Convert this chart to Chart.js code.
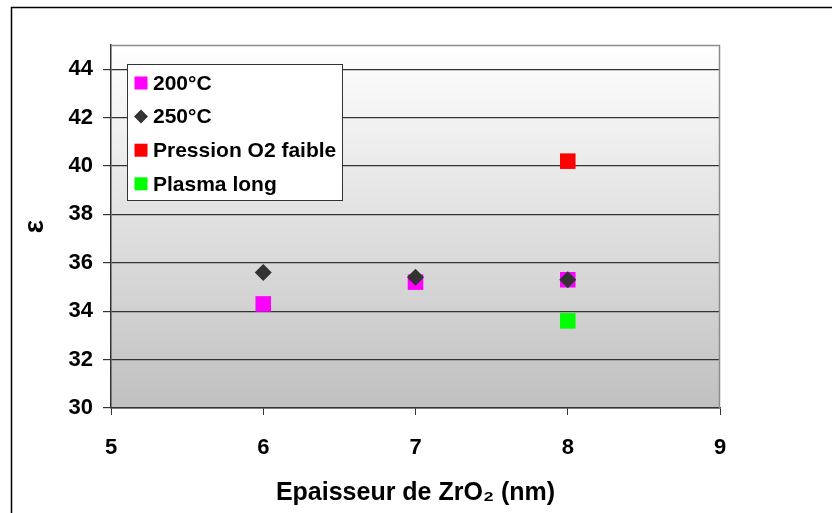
<!DOCTYPE html>
<html lang="fr">
<head>
    <meta charset="UTF-8">
    <script src="https://cdn.jsdelivr.net/npm/chart.js@4.4.0/dist/chart.umd.min.js"></script>
    <title>Epaisseur de ZrO2</title>
    <style>
        body { margin: 0; background: #fff; }
    </style>
</head>
<body>
    <canvas id="myChart" width="832" height="513"></canvas>
    <script>
        // donnees
        var epaisseur = [6, 7, 8];
        var eps200 = [34.3, 35.2, 35.3];
        var eps250 = [35.6, 35.4, 35.3];
        var pressionX = [8];
        var pressionY = [40.2];
        var plasmaX = [8];
        var plasmaY = [33.6];
        var yTicks = [30, 32, 34, 36, 38, 40, 42, 44];
        var xTicks = [5, 6, 7, 8, 9];

        function pts(xs, ys) {
            return xs.map(function (x, i) { return { x: x, y: ys[i] }; });
        }

        var police = '"Liberation Sans", Arial, sans-serif';

        var fond = {
            id: 'fond',
            beforeDraw: function (chart) {
                var c = chart.ctx, a = chart.chartArea;
                var g = c.createLinearGradient(0, a.top, 0, a.bottom);
                g.addColorStop(0, '#ffffff');
                g.addColorStop(1, '#c0c0c0');
                c.save();
                c.fillStyle = g;
                c.fillRect(a.left, a.top, a.right - a.left, a.bottom - a.top);
                // cadre exterieur
                c.strokeStyle = '#000';
                c.lineWidth = 1.5;
                c.strokeRect(11.5, 7.5, 1000, 1000);
                c.restore();
            },
            beforeDatasetsDraw: function (chart) {
                var c = chart.ctx, a = chart.chartArea;
                c.save();
                c.strokeStyle = '#8c8c8c';
                c.lineWidth = 1.5;
                c.beginPath();
                c.moveTo(a.left, a.top + 0.5);
                c.lineTo(a.right - 0.5, a.top + 0.5);
                c.lineTo(a.right - 0.5, a.bottom);
                c.stroke();
                c.restore();
            }
        };

        var legende = {
            id: 'legende',
            afterDraw: function (chart) {
                var c = chart.ctx;
                var ordre = [0, 1, 2, 3];
                c.save();
                c.fillStyle = '#fff';
                c.fillRect(127, 64, 215, 136);
                c.strokeStyle = '#333';
                c.lineWidth = 1;
                c.strokeRect(127.5, 64.5, 215, 136);
                c.font = 'bold 21px ' + police;
                c.textBaseline = 'middle';
                ordre.forEach(function (k, i) {
                    var ds = chart.data.datasets[k];
                    var y = 83 + i * 33.6;
                    c.fillStyle = ds.backgroundColor;
                    c.strokeStyle = ds.backgroundColor;
                    Chart.helpers.drawPoint(c, {
                        pointStyle: ds.pointStyle,
                        radius: ds.pointStyle === 'rectRot' ? 7 : 9.2,
                        borderWidth: 0
                    }, 141, y);
                    c.fillStyle = '#000';
                    c.fillText(ds.label, 153, y + 1);
                });
                c.restore();
            }
        };

        var ctx = document.getElementById('myChart').getContext('2d');
        var myChart = new Chart(ctx, {
            type: 'scatter',
            data: {
                datasets: [{
                    label: '200°C',
                    data: pts(epaisseur, eps200),
                    backgroundColor: '#ff00ff',
                    borderColor: '#ff00ff',
                    pointStyle: 'rect',
                    pointRadius: 11,
                    borderWidth: 0,
                    order: 2
                }, {
                    label: '250°C',
                    data: pts(epaisseur, eps250),
                    backgroundColor: '#333333',
                    borderColor: '#333333',
                    pointStyle: 'rectRot',
                    pointRadius: 8.5,
                    borderWidth: 0,
                    order: 1
                }, {
                    label: 'Pression O2 faible',
                    data: pts(pressionX, pressionY),
                    backgroundColor: '#ff0000',
                    borderColor: '#ff0000',
                    pointStyle: 'rect',
                    pointRadius: 11,
                    borderWidth: 0,
                    order: 3
                }, {
                    label: 'Plasma long',
                    data: pts(plasmaX, plasmaY),
                    backgroundColor: '#00ff00',
                    borderColor: '#00ff00',
                    pointStyle: 'rect',
                    pointRadius: 11,
                    borderWidth: 0,
                    order: 4
                }]
            },
            options: {
                responsive: false,
                animation: false,
                events: [],
                layout: { padding: { top: 45, right: 112, left: 0, bottom: 0 } },
                plugins: {
                    legend: { display: false },
                    tooltip: { enabled: false }
                },
                scales: {
                    x: {
                        type: 'linear',
                        min: 5,
                        max: 9,
                        afterFit: function (s) { s.height = 105; },
                        afterBuildTicks: function (s) {
                            s.ticks = xTicks.map(function (v) { return { value: v }; });
                        },
                        grid: { drawOnChartArea: false, tickLength: 7, color: '#333' },
                        border: { color: '#333', width: 1.5 },
                        ticks: {
                            color: '#000',
                            padding: 20,
                            font: { family: police, size: 22, weight: 'bold' }
                        },
                        title: {
                            display: true,
                            text: 'Epaisseur de ZrO₂ (nm)',
                            color: '#000',
                            padding: { top: 0, bottom: 5 },
                            font: { family: police, size: 25, weight: 'bold' }
                        }
                    },
                    y: {
                        min: 30,
                        max: 45,
                        afterFit: function (s) { s.width = 111; },
                        afterBuildTicks: function (s) {
                            s.ticks = yTicks.map(function (v) { return { value: v }; });
                        },
                        grid: { tickLength: 8, color: '#333', lineWidth: 1.2 },
                        border: { color: '#333', width: 1.5 },
                        ticks: {
                            color: '#000',
                            padding: 10,
                            font: { family: police, size: 22, weight: 'bold' }
                        },
                        title: {
                            display: true,
                            text: 'ε',
                            color: '#000',
                            padding: { top: 18, bottom: 0 },
                            font: { family: police, size: 28, weight: 'bold' }
                        }
                    }
                }
            },
            plugins: [fond, legende]
        });
    </script>
</body>
</html>
